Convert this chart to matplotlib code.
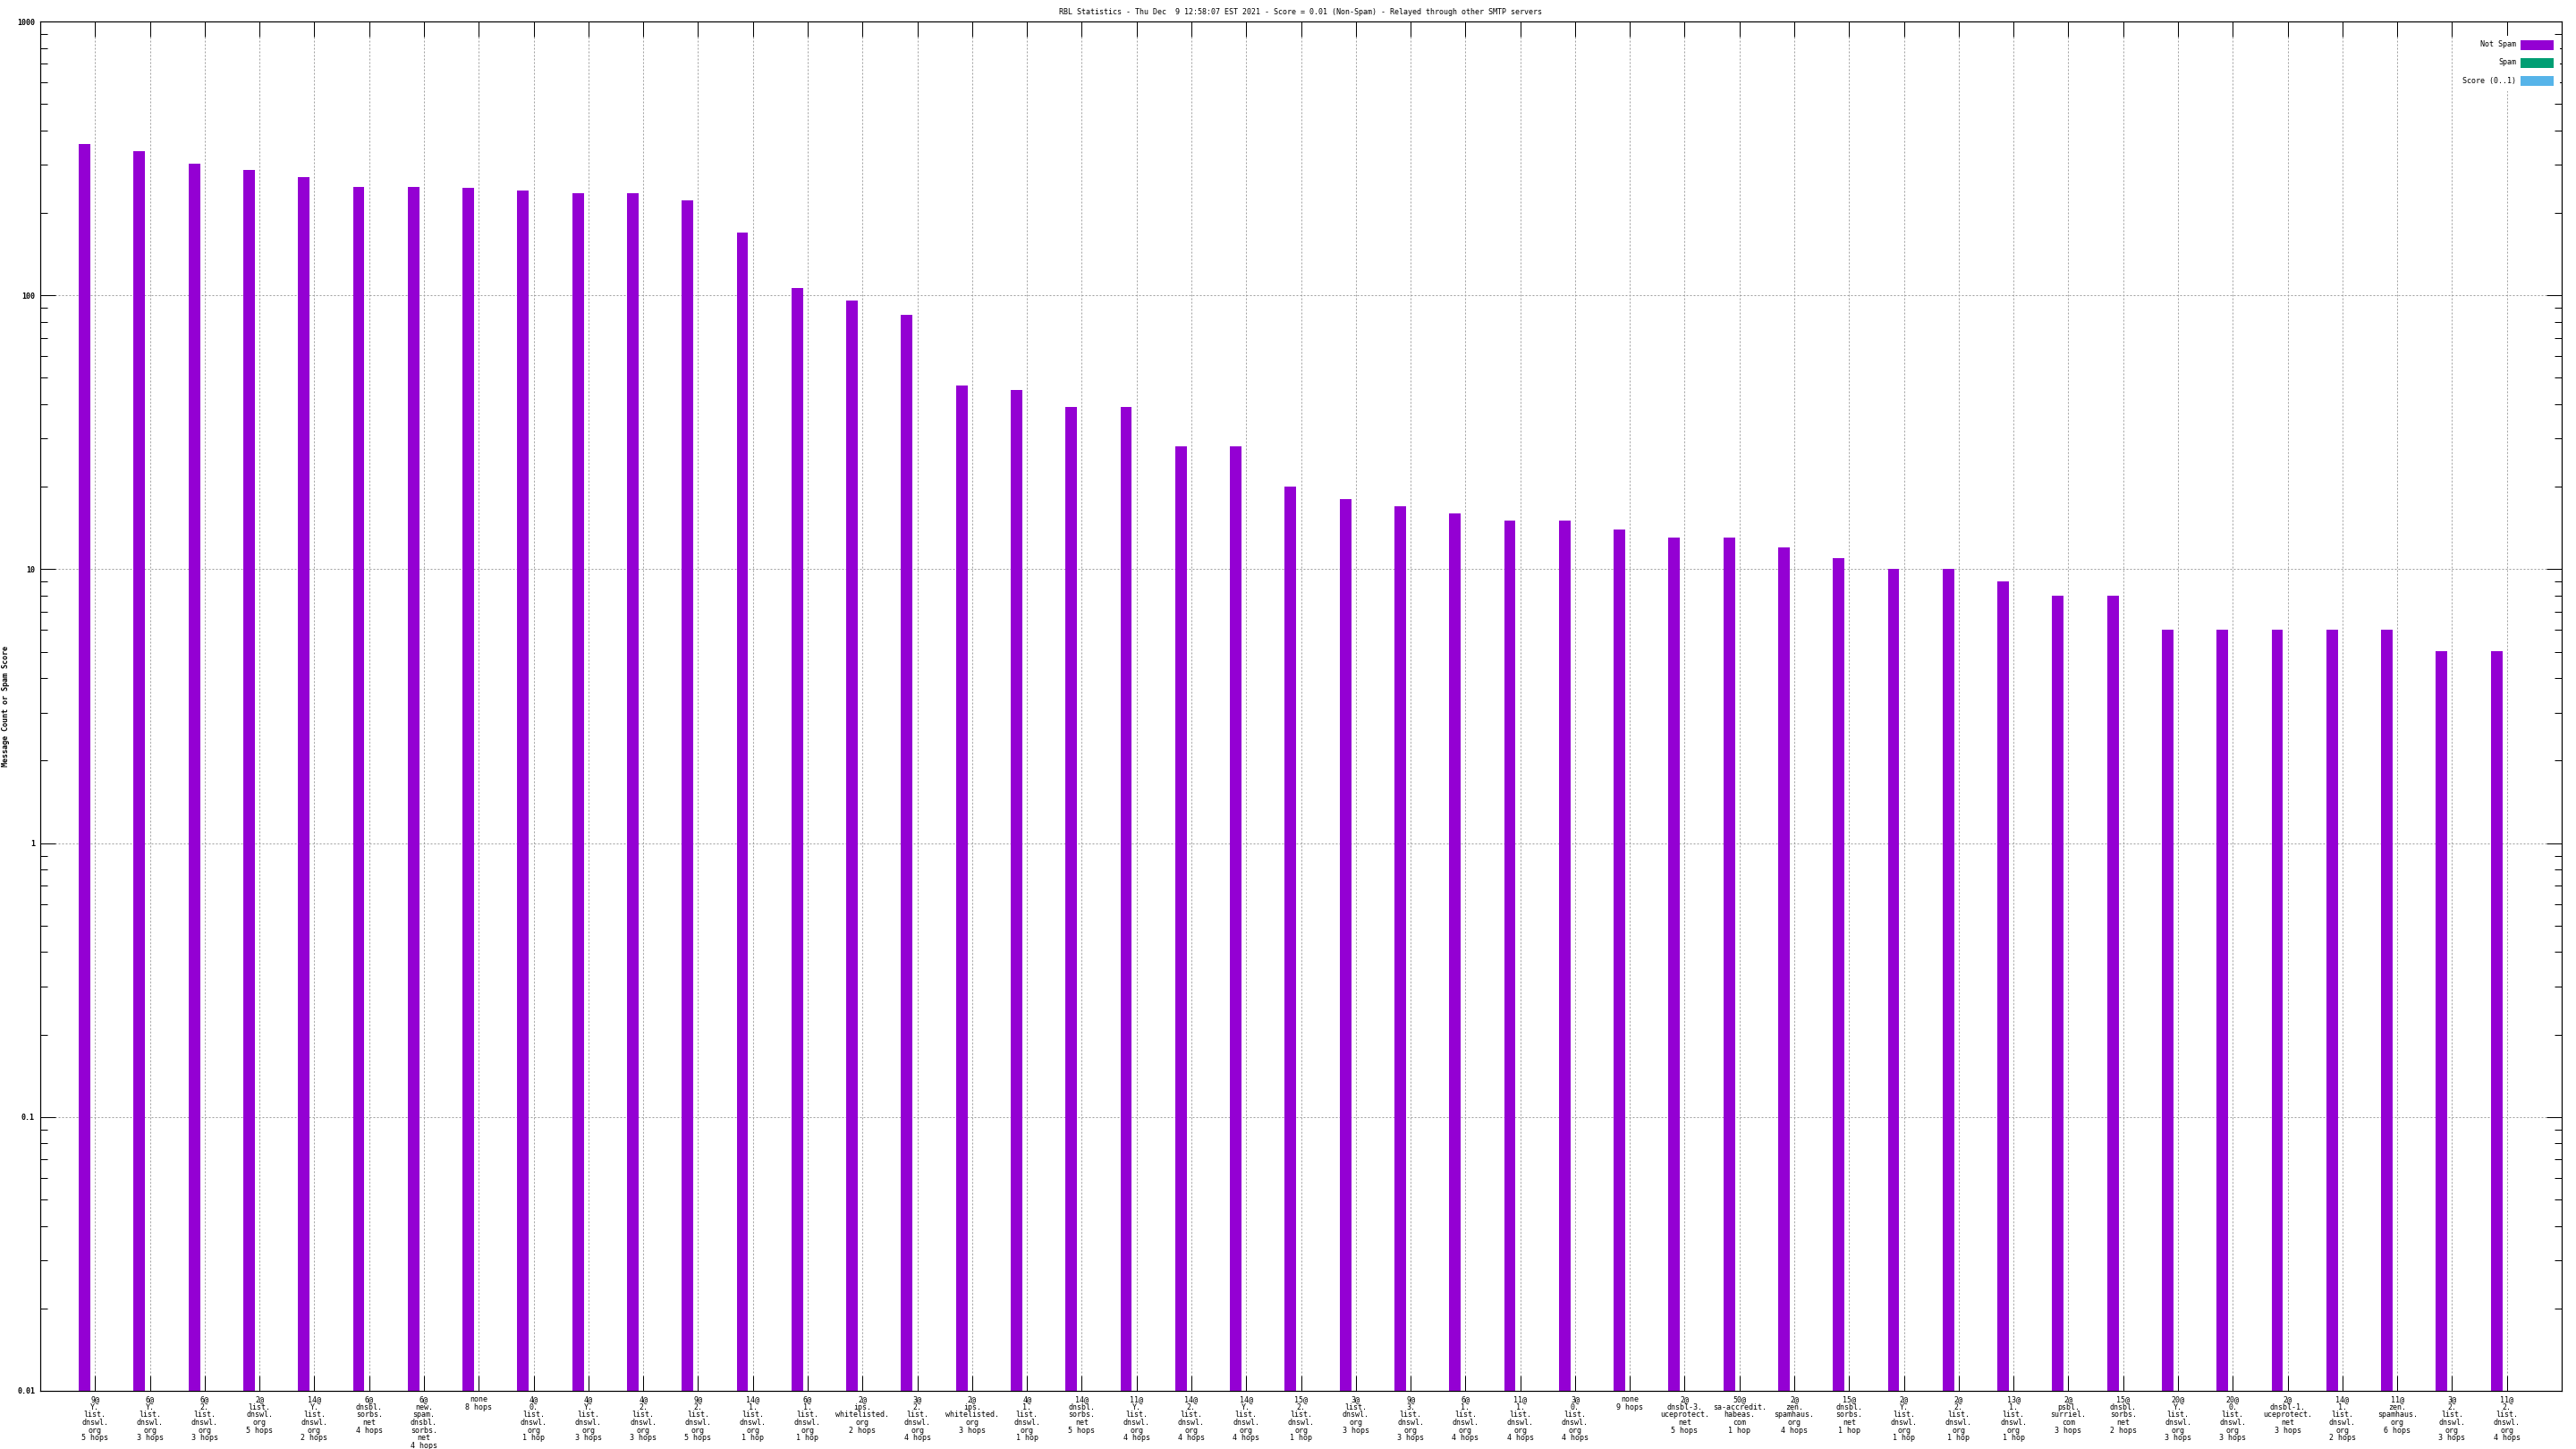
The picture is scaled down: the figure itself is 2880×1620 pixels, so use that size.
import matplotlib
matplotlib.use("Agg")
import matplotlib.pyplot as plt
from matplotlib.ticker import LogLocator, FixedLocator, NullFormatter
from matplotlib.patches import Rectangle

# ---------------- data ----------------
categories = [
    "9@\nY.\nlist.\ndnswl.\norg\n5 hops",
    "6@\nY.\nlist.\ndnswl.\norg\n3 hops",
    "6@\n2.\nlist.\ndnswl.\norg\n3 hops",
    "2@\nlist.\ndnswl.\norg\n5 hops",
    "14@\nY.\nlist.\ndnswl.\norg\n2 hops",
    "6@\ndnsbl.\nsorbs.\nnet\n4 hops",
    "6@\nnew.\nspam.\ndnsbl.\nsorbs.\nnet\n4 hops",
    "none\n8 hops",
    "4@\n0.\nlist.\ndnswl.\norg\n1 hop",
    "4@\nY.\nlist.\ndnswl.\norg\n3 hops",
    "4@\n2.\nlist.\ndnswl.\norg\n3 hops",
    "9@\n2.\nlist.\ndnswl.\norg\n5 hops",
    "14@\n1.\nlist.\ndnswl.\norg\n1 hop",
    "6@\n1.\nlist.\ndnswl.\norg\n1 hop",
    "2@\nips.\nwhitelisted.\norg\n2 hops",
    "3@\n2.\nlist.\ndnswl.\norg\n4 hops",
    "2@\nips.\nwhitelisted.\norg\n3 hops",
    "4@\n1.\nlist.\ndnswl.\norg\n1 hop",
    "14@\ndnsbl.\nsorbs.\nnet\n5 hops",
    "11@\nY.\nlist.\ndnswl.\norg\n4 hops",
    "14@\n2.\nlist.\ndnswl.\norg\n4 hops",
    "14@\nY.\nlist.\ndnswl.\norg\n4 hops",
    "15@\n2.\nlist.\ndnswl.\norg\n1 hop",
    "3@\nlist.\ndnswl.\norg\n3 hops",
    "9@\n3.\nlist.\ndnswl.\norg\n3 hops",
    "6@\n1.\nlist.\ndnswl.\norg\n4 hops",
    "11@\n1.\nlist.\ndnswl.\norg\n4 hops",
    "3@\n0.\nlist.\ndnswl.\norg\n4 hops",
    "none\n9 hops",
    "2@\ndnsbl-3.\nuceprotect.\nnet\n5 hops",
    "50@\nsa-accredit.\nhabeas.\ncom\n1 hop",
    "2@\nzen.\nspamhaus.\norg\n4 hops",
    "15@\ndnsbl.\nsorbs.\nnet\n1 hop",
    "2@\nY.\nlist.\ndnswl.\norg\n1 hop",
    "2@\n2.\nlist.\ndnswl.\norg\n1 hop",
    "13@\n1.\nlist.\ndnswl.\norg\n1 hop",
    "2@\npsbl.\nsurriel.\ncom\n3 hops",
    "15@\ndnsbl.\nsorbs.\nnet\n2 hops",
    "20@\nY.\nlist.\ndnswl.\norg\n3 hops",
    "20@\n0.\nlist.\ndnswl.\norg\n3 hops",
    "2@\ndnsbl-1.\nuceprotect.\nnet\n3 hops",
    "14@\n1.\nlist.\ndnswl.\norg\n2 hops",
    "11@\nzen.\nspamhaus.\norg\n6 hops",
    "3@\n2.\nlist.\ndnswl.\norg\n3 hops",
    "11@\n2.\nlist.\ndnswl.\norg\n4 hops",
]

not_spam = [357, 336, 303, 287, 270, 249, 249, 247, 242, 236, 236, 222, 170,
            106, 96, 85, 47, 45, 39, 39, 28, 28, 20, 18, 17, 16, 15, 15, 14,
            13, 13, 12, 11, 10, 10, 9, 8, 8, 6, 6, 6, 6, 6, 5, 5]

series_names = ["Not Spam", "Spam", "Score (0..1)"]
series_colors = ["#9400d3", "#009e73", "#56b4e9"]

title = ("RBL Statistics - Thu Dec  9 12:58:07 EST 2021 - Score = 0.01 "
         "(Non-Spam) - Relayed through other SMTP servers")
ylabel = "Message Count or Spam Score"
ytick_vals = [0.01, 0.1, 1, 10, 100, 1000]
ytick_labels = ["0.01", "0.1", "1", "10", "100", "1000"]

# ---------------- figure ----------------
W, H, DPI = 2880, 1620, 100
PX = 72.0 / DPI  # points per pixel
MONO = "DejaVu Sans Mono"

fig = plt.figure(figsize=(W / DPI, H / DPI), dpi=DPI)
L, R, T, B = 45, 2864, 24, 1555
ax = fig.add_axes([L / W, 1 - B / H, (R - L) / W, (B - T) / H])

n = len(categories)
xs = list(range(1, n + 1))
ax.bar([x - 0.19 for x in xs], not_spam, width=0.21, color=series_colors[0],
       linewidth=0, zorder=3, bottom=0.01)

ax.set_yscale("log")
ax.set_ylim(0.01, 1000)
ax.set_xlim(0, n + 1)

ax.yaxis.set_major_locator(FixedLocator(ytick_vals))
ax.set_yticklabels(ytick_labels, fontfamily=MONO, fontsize=6, fontweight="bold")
ax.yaxis.set_minor_locator(LogLocator(base=10, subs=range(2, 10)))
ax.yaxis.set_minor_formatter(NullFormatter())

ax.set_xticks(xs)
ax.set_xticklabels(categories, fontfamily=MONO, fontsize=6, linespacing=0.95,
                   va="top")

ax.tick_params(axis="both", which="major", direction="in", length=17 * PX,
               width=1 * PX, color="black", top=True, right=True)
ax.tick_params(axis="y", which="minor", direction="in", length=8 * PX,
               width=1 * PX, color="black", right=True)
ax.tick_params(axis="y", which="major", pad=6 * PX)
ax.tick_params(axis="x", which="major", pad=5 * PX)

for s in ax.spines.values():
    s.set_linewidth(1.2 * PX)
    s.set_color("black")
    s.set_zorder(5)

ax.grid(True, which="major", axis="both", color="#a0a0a0",
        linestyle=(0, (2, 2)), linewidth=1 * PX, zorder=1)
ax.set_axisbelow(True)

# title and axis label
fig.text((L + R) / 2 / W, 1 - 13 / H, title, ha="center", va="center",
         fontfamily=MONO, fontsize=6)
fig.text(7 / W, 1 - ((T + B) / 2) / H, ylabel, rotation=90, ha="center",
         va="center", fontfamily=MONO, fontsize=6, fontweight="bold")

# legend (gnuplot-style: text right-aligned, colour box on the right)
fig.add_artist(Rectangle((2746 / W, 1 - 102 / H), (2862 - 2746) / W,
                         (102 - 40) / H, transform=fig.transFigure,
                         facecolor="white", edgecolor="none", zorder=4))
for i, (name, col) in enumerate(zip(series_names, series_colors)):
    yc = 50 + 20 * i
    fig.text(2813 / W, 1 - yc / H, name, ha="right", va="center",
             fontfamily=MONO, fontsize=6, zorder=6)
    fig.add_artist(Rectangle((2818 / W, 1 - (yc + 5.5) / H), 37 / W, 11 / H,
                             transform=fig.transFigure, facecolor=col,
                             edgecolor="none", zorder=6))

fig.savefig("out.png", dpi=DPI, facecolor="white")
